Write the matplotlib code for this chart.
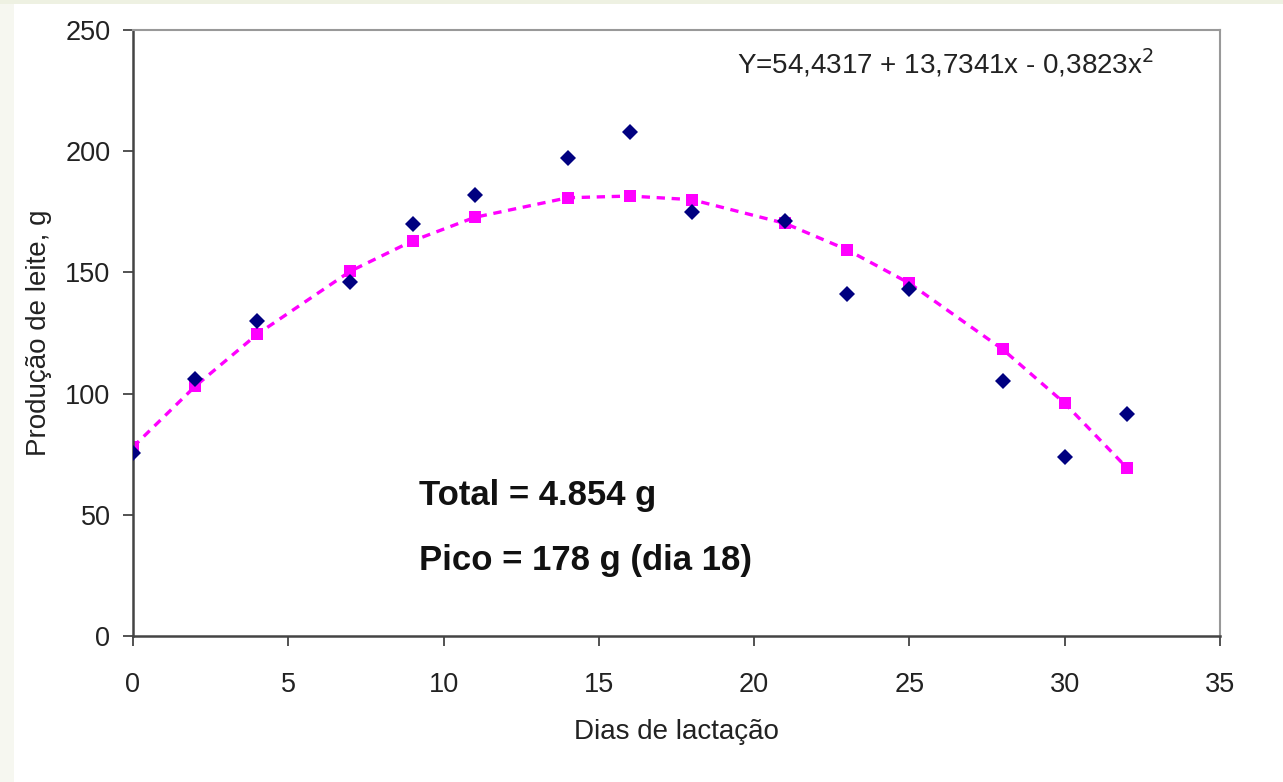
import matplotlib.pyplot as plt
from matplotlib.patches import Rectangle

plt.rcParams['font.family'] = ['Liberation Sans', 'DejaVu Sans']

# dias de lactação
dias = [0, 2, 4, 7, 9, 11, 14, 16, 18, 21, 23, 25, 28, 30, 32]
# produção observada (g)
observado = [75.5, 106, 130, 146, 170, 182, 197, 208, 175, 171, 141, 143, 105, 74, 91.5]
# produção estimada pela equação (g)
estimado = [78, 103, 124.5, 150.5, 163, 172.7, 180.8, 181.5, 180, 170.2, 159.3, 145.5, 118.3, 96, 69.4]

xticks = [0, 5, 10, 15, 20, 25, 30, 35]
yticks = [0, 50, 100, 150, 200, 250]

fig = plt.figure(figsize=(12.83, 7.82), dpi=100)
fig.patch.set_facecolor('white')
# faixa clara na borda esquerda e no topo
fig.patches.append(Rectangle((0, 0), 14 / 1283, 1, transform=fig.transFigure,
                             facecolor='#f6f7f0', edgecolor='none', zorder=0))
fig.patches.append(Rectangle((0, 1 - 4 / 782), 1, 4 / 782, transform=fig.transFigure,
                             facecolor='#eef1e2', edgecolor='none', zorder=0))

ax = fig.add_axes([133 / 1283, 1 - 636 / 782, (1220 - 133) / 1283, (636 - 30) / 782])

ax.plot(dias, estimado, color='#ff00ff', lw=2.4, linestyle=(0, (2.5, 2)),
        marker='s', markersize=8.5, markeredgewidth=0, zorder=2)
ax.plot(dias, observado, linestyle='none', marker='D', markersize=8.5,
        color='#000080', markeredgewidth=0, zorder=3)

ax.set_xlim(0, 35)
ax.set_ylim(0, 250)
ax.set_xticks(xticks)
ax.set_yticks(yticks)
ax.tick_params(axis='both', direction='out', length=7.2, width=1.3, color='#444444',
               labelsize=19.5, labelcolor='#222222')
ax.tick_params(axis='x', pad=19)
ax.tick_params(axis='y', pad=9)

for s in ['left', 'bottom']:
    ax.spines[s].set_color('#444444')
    ax.spines[s].set_linewidth(1.8)
for s in ['top', 'right']:
    ax.spines[s].set_color('#999999')
    ax.spines[s].set_linewidth(1.5)

ax.set_xlabel('Dias de lactação', fontsize=20, labelpad=14.5, color='#222222')
ax.set_ylabel('Produção de leite, g', fontsize=20, labelpad=9.5, color='#222222')

ax.text(19.45, 232, 'Y=54,4317 + 13,7341x - 0,3823x$^2$', fontsize=20,
        ha='left', va='baseline', color='#222222')
ax.text(9.2, 54, 'Total = 4.854 g', fontsize=25, fontweight='bold',
        ha='left', va='baseline', color='#111111')
ax.text(9.2, 27.2, 'Pico = 178 g (dia 18)', fontsize=25, fontweight='bold',
        ha='left', va='baseline', color='#111111')

fig.savefig('out.png', dpi=100)
